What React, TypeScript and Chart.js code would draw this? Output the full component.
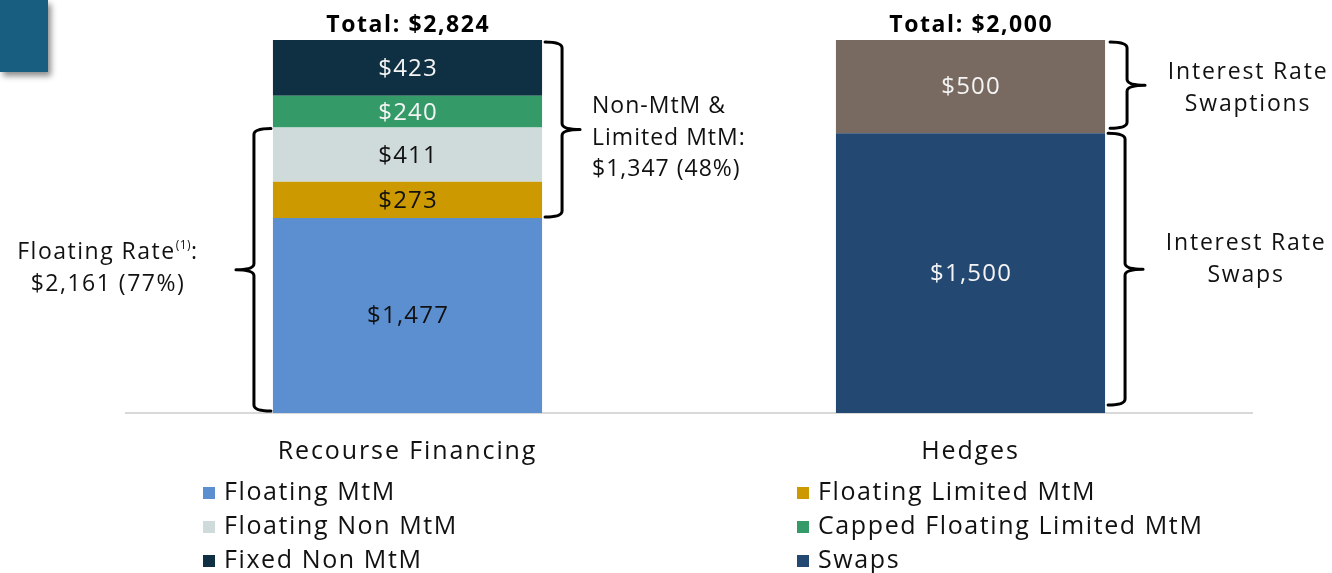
import React, { useEffect, useRef } from "react";
import { Chart, registerables } from "chart.js";

Chart.register(...registerables);

const categories = ["Recourse Financing", "Hedges"];
const seriesNames = [
  "Floating MtM",
  "Floating Limited MtM",
  "Floating Non MtM",
  "Capped Floating Limited MtM",
  "Fixed Non MtM",
  "Swaps",
  "Swaptions",
];
const floatingMtM = [1477, 0];
const floatingLimitedMtM = [273, 0];
const floatingNonMtM = [411, 0];
const cappedFloatingLimitedMtM = [240, 0];
const fixedNonMtM = [423, 0];
const swaps = [0, 1500];
const swaptions = [0, 500];
const series = [
  floatingMtM,
  floatingLimitedMtM,
  floatingNonMtM,
  cappedFloatingLimitedMtM,
  fixedNonMtM,
  swaps,
  swaptions,
];
const seriesColors = ["#5b8fd0", "#cc9900", "#cedbda", "#349a68", "#0f3042", "#234871", "#786a60"];
const labelColors = ["#111", "#111", "#111", "#f4f4f4", "#f4f4f4", "#f4f4f4", "#f4f4f4"];
const floatingRateText = ["Floating Rate", "$2,161 (77%)"];
const nonMtmText = ["Non-MtM &", "Limited MtM:", "$1,347 (48%)"];
const swaptionsText = ["Interest Rate", "Swaptions"];
const swapsText = ["Interest Rate", "Swaps"];

const FONT = "'Open Sans', Lato, sans-serif";

const totals = categories.map((_, i) => series.reduce((s, arr) => s + arr[i], 0));
const fmt = (v: number) => "$" + v.toLocaleString("en-US");

function setFont(ctx: any, size: number, weight: number, spacing: number) {
  ctx.font = `${weight} ${size}px ${FONT}`;
  ctx.letterSpacing = `${spacing}px`;
}

function drawBrace(ctx: CanvasRenderingContext2D, xLine: number, yTop: number, yBot: number, dir: number) {
  const hook = 17 * -dir;
  const tip = 18 * dir;
  const r = 6;
  const yMid = (yTop + yBot) / 2;
  ctx.beginPath();
  ctx.moveTo(xLine + hook, yTop);
  ctx.quadraticCurveTo(xLine, yTop, xLine, yTop + r);
  ctx.lineTo(xLine, yMid - r);
  ctx.quadraticCurveTo(xLine, yMid, xLine + tip, yMid);
  ctx.moveTo(xLine + tip, yMid);
  ctx.quadraticCurveTo(xLine, yMid, xLine, yMid + r);
  ctx.lineTo(xLine, yBot - r);
  ctx.quadraticCurveTo(xLine, yBot, xLine + hook, yBot);
  ctx.stroke();
  return { tipX: xLine + tip, tipY: yMid };
}

const spacingPlugin = {
  id: "spacing",
  beforeDraw(chart: any) {
    chart.ctx.letterSpacing = "1.9px";
  },
};

const overlayPlugin = {
  id: "overlay",
  afterDatasetsDraw(chart: any) {
    const ctx: any = chart.ctx;
    ctx.save();
    ctx.textAlign = "center";
    ctx.textBaseline = "middle";
    const els: any[][] = chart.data.datasets.map((_: any, di: number) =>
      chart.getDatasetMeta(di).data.map((el: any) => el.getProps(["x", "y", "base", "width"], true))
    );
    // segment labels
    setFont(ctx, 24, 400, 1.2);
    series.forEach((arr, di) => {
      arr.forEach((v, i) => {
        if (!v) return;
        const e = els[di][i];
        ctx.fillStyle = labelColors[di];
        ctx.fillText(fmt(v), e.x + 0.6, (e.y + e.base) / 2 + 1);
      });
    });
    // totals
    setFont(ctx, 23, 700, 1.6);
    ctx.fillStyle = "#000";
    totals.forEach((t, i) => {
      let top = Infinity;
      series.forEach((arr, di) => {
        if (arr[i]) top = Math.min(top, els[di][i].y);
      });
      ctx.fillText("Total: " + fmt(t), els[0][i].x + 0.8, top - 15);
    });

    // braces
    ctx.strokeStyle = "#000";
    ctx.lineWidth = 3;
    ctx.lineCap = "round";
    ctx.lineJoin = "round";
    const left0 = els[0][0].x - els[0][0].width / 2;
    const right0 = els[0][0].x + els[0][0].width / 2;
    const right1 = els[5][1].x + els[5][1].width / 2;

    const b1 = drawBrace(ctx, left0 - 19, els[2][0].y + 1, els[0][0].base - 2, -1);
    const b2 = drawBrace(ctx, right0 + 20, els[4][0].y + 2, els[1][0].base - 1, 1);
    const b3 = drawBrace(ctx, right1 + 22, els[6][1].y + 2, els[6][1].base - 5, 1);
    const b4 = drawBrace(ctx, right1 + 20, els[5][1].y + 0, els[5][1].base - 8, 1);

    ctx.fillStyle = "#111";
    {
      const cx = b1.tipX - 128;
      const main = floatingRateText[0];
      setFont(ctx, 23, 400, 1.5);
      const w1 = ctx.measureText(main).width;
      setFont(ctx, 12, 400, 0.5);
      const w2 = ctx.measureText("(1)").width;
      setFont(ctx, 23, 400, 1.5);
      const w3 = ctx.measureText(":").width;
      let x = cx - (w1 + w2 + w3) / 2;
      const y = b1.tipY - 17;
      ctx.textAlign = "left";
      ctx.fillText(main, x, y);
      x += w1;
      setFont(ctx, 12, 400, 0.5);
      ctx.fillText("(1)", x, y - 7);
      x += w2;
      setFont(ctx, 23, 400, 1.5);
      ctx.fillText(":", x, y);
      ctx.textAlign = "center";
      ctx.fillText(floatingRateText[1], cx, b1.tipY + 15);
    }
    setFont(ctx, 23, 400, 1.0);
    ctx.textAlign = "left";
    nonMtmText.forEach((t, k) => ctx.fillText(t, b2.tipX + 12, b2.tipY - 23 + k * 31.5));
    setFont(ctx, 23, 400, 1.8);
    ctx.textAlign = "center";
    swaptionsText.forEach((t, k) => ctx.fillText(t, b3.tipX + 103, b3.tipY - 13 + k * 32));
    swapsText.forEach((t, k) => ctx.fillText(t, b4.tipX + 103, b4.tipY - 26 + k * 32));

    // legend (two columns)
    setFont(ctx, 25, 400, 1.6);
    ctx.textAlign = "left";
    seriesNames.forEach((name, i) => {
      const col = i % 2;
      const row = Math.floor(i / 2);
      const bx = col === 0 ? 203 : 797;
      const cy = 492 + row * 34;
      ctx.fillStyle = seriesColors[i];
      ctx.fillRect(bx, cy - 5, 12, 12);
      ctx.fillStyle = "#111";
      ctx.fillText(name, bx + 21, cy + 1);
    });
    ctx.restore();
  },
};

export default function App() {
  const ref = useRef<HTMLCanvasElement | null>(null);
  useEffect(() => {
    document.body.style.margin = "0";
    const canvas = ref.current!;
    const chart = new Chart(canvas, {
      type: "bar",
      data: {
        labels: categories,
        datasets: series.map((arr, di) => ({
          label: seriesNames[di],
          data: arr.map((v, i) => (v / totals[i]) * 100),
          backgroundColor: seriesColors[di],
          borderWidth: 0,
          barPercentage: 1,
          categoryPercentage: 0.478,
        })),
      },
      options: {
        responsive: false,
        animation: false,
        devicePixelRatio: 1,
        layout: { padding: { left: 126, right: 80, top: 40, bottom: 0 } },
        plugins: { legend: { display: false }, tooltip: { enabled: false }, title: { display: false } },
        scales: {
          x: {
            stacked: true,
            grid: { display: false, drawTicks: false },
            border: { display: true, color: "#d9d9d9", width: 2 },
            ticks: { font: { family: FONT, size: 25 }, color: "#111", padding: 24 },
            afterFit: (scale: any) => {
              scale.height = 160;
            },
          },
          y: { stacked: true, display: false, min: 0, max: 100 },
        },
      },
      plugins: [spacingPlugin, overlayPlugin],
    });
    return () => chart.destroy();
  }, []);
  return (
    <div style={{ position: "relative", width: 1332, height: 573, background: "#fff", overflow: "hidden" }}>
      <canvas ref={ref} width={1332} height={573} style={{ position: "absolute", left: 0, top: 0 }} />
      <div
        style={{
          position: "absolute",
          left: 0,
          top: 0,
          width: 48,
          height: 72,
          background: "#175e80",
          boxShadow: "3px 4px 6px rgba(0,0,0,0.45)",
        }}
      />
    </div>
  );
}
